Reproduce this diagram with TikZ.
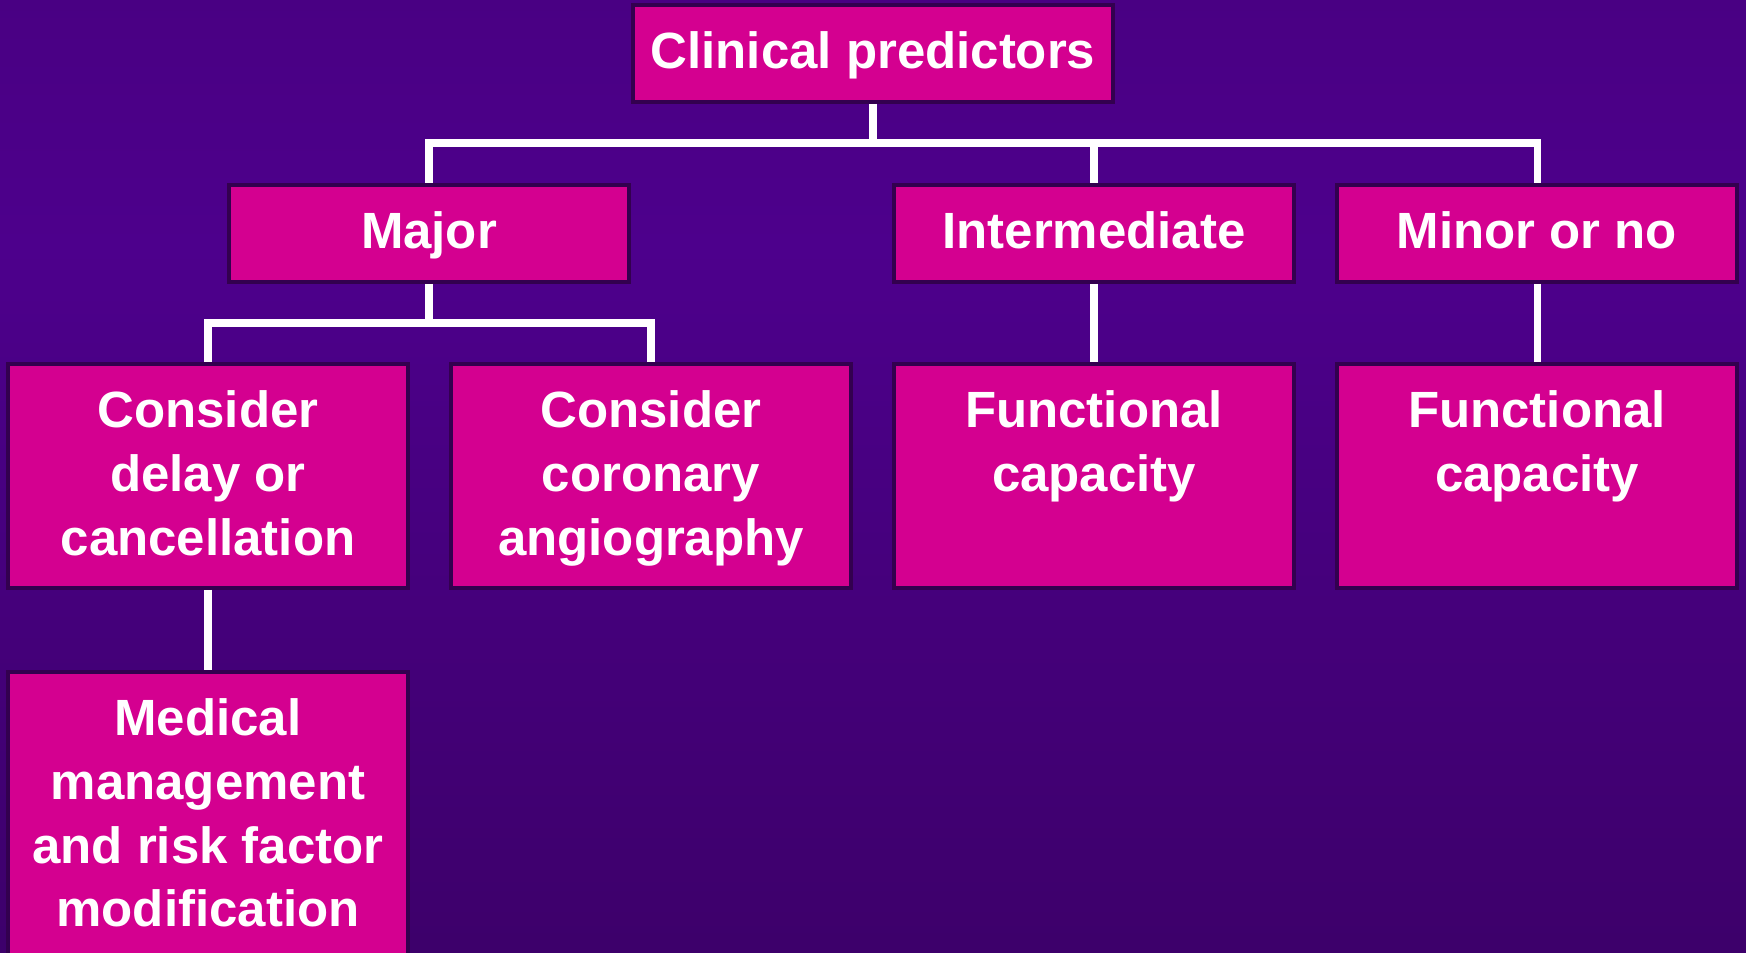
\documentclass[tikz,border=0pt]{standalone}
\usepackage{fontspec}
\setmainfont{Liberation Sans}
\usepackage{tikz}

\definecolor{bgtop}{HTML}{420072}
\definecolor{bgmid}{HTML}{4D008C}
\definecolor{bgbot}{HTML}{320054}
\definecolor{boxfill}{HTML}{D40090}
\definecolor{boxline}{HTML}{33004F}

\pgfdeclareverticalshading{slidebg}{100bp}{color(0bp)=(bgbot); color(62bp)=(bgmid); color(100bp)=(bgtop)}

\begin{document}
\begin{tikzpicture}[
		box/.style={shape=rectangle,draw=boxline,line width=1pt,fill=boxfill,text=white,inner sep=0pt,
			font=\bfseries\fontsize{14.5}{18.1}\selectfont},
		head/.style={box,minimum width=4cm,minimum height=0.97cm,text height=0.37cm,text depth=0.07cm},
		tall/.style={box,minimum width=4cm,
			execute at begin node={\begin{minipage}[c][#1][t]{3.9cm}\centering\vspace*{0.27cm}},
			execute at end node={\end{minipage}}},
		link/.style={draw=white,line width=2pt}
	]
			\useasboundingbox (0,0) rectangle (17.46,-9.52);
			\clip (0,0) rectangle (17.46,-9.52);
			\fill[shading=slidebg] (0,0) rectangle (17.46,-9.52);
			
			\node[head,minimum width=4.8cm] (0) at (8.73,-0.535) {Clinical predictors};
			\node[head] (1) at (4.29,-2.335) {Major};
			\node[head] (2) at (10.94,-2.335) {Intermediate};
			\node[head] (3) at (15.37,-2.335) {Minor or no};
			\node[tall=2.24cm] (4) at (2.08,-4.76) {Consider\\delay or\\cancellation};
			\node[tall=2.24cm] (5) at (6.51,-4.76) {Consider\\coronary\\angiography};
			\node[tall=2.24cm] (6) at (10.94,-4.76) {Functional\\capacity};
			\node[tall=2.24cm] (7) at (15.37,-4.76) {Functional\\capacity};
			\node[tall=3.13cm] (8) at (2.08,-8.285) {Medical\\management\\and risk factor\\modification};
			
			\coordinate (j0) at (8.73,-1.43);
			\coordinate (j1) at (4.29,-3.23);
			
			\path [link] (0) -- (j0);
			\path [link] (j0) -| (1.north);
			\path [link] (j0) -| (2.north);
			\path [link] (j0) -| (3.north);
			\path [link] (1) -- (j1);
			\path [link] (j1) -| (4.north);
			\path [link] (j1) -| (5.north);
			\path [link] (2) -- (6);
			\path [link] (3) -- (7);
			\path [link] (4) -- (8);
		\end{tikzpicture}
\end{document}
